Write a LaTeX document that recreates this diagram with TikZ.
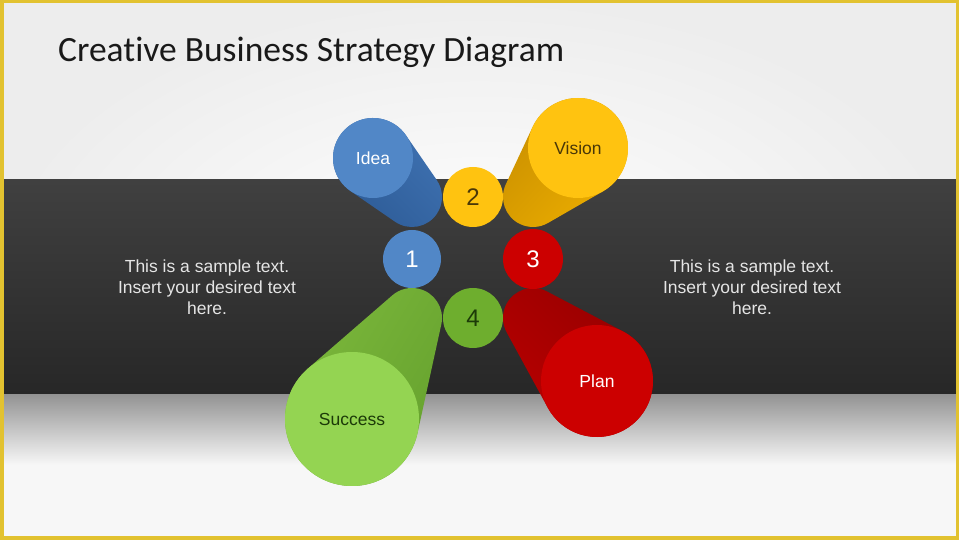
\documentclass[tikz,border=0pt]{standalone}
\usepackage{fontspec}
\setmainfont{Liberation Sans}
\newfontfamily\titlefont[RawFeature=-liga]{Carlito}
\usetikzlibrary{calc}
\definecolor{bordery}{HTML}{E2C230}
\definecolor{bandtop}{HTML}{404040}
\definecolor{bandbot}{HTML}{272727}
\definecolor{bluef}{HTML}{5187C7}
\definecolor{bluet1}{HTML}{2D5B96}
\definecolor{bluet2}{HTML}{3F72B2}
\definecolor{yelf}{HTML}{FFC310}
\definecolor{yelt1}{HTML}{C98F00}
\definecolor{yelt2}{HTML}{ECAE00}
\definecolor{redf}{HTML}{CC0000}
\definecolor{redt1}{HTML}{960000}
\definecolor{redt2}{HTML}{B80000}
\definecolor{grnf}{HTML}{94D452}
\definecolor{grnt1}{HTML}{66A22E}
\definecolor{grnt2}{HTML}{7CB83C}
\definecolor{grnc}{HTML}{6EAE2E}
\definecolor{ylabel}{HTML}{4A3808}
\definecolor{glabel}{HTML}{1C3A08}
\tikzset{
  numcirc/.style={circle,inner sep=0pt,font=\fontsize{24}{24}\selectfont},
  lab/.style={font=\fontsize{17.5}{17.5}\selectfont},
  sidetext/.style={align=center,text=white!90!black,font=\fontsize{17.5}{21}\selectfont},
}
% #1 small centre, #2 small radius, #3 big centre, #4 big radius, #5 dark col, #6 light col
\newcommand\tubehull[6]{%
  \path let \p1=(#1), \p2=(#3),
    \n1={atan2(\y2-\y1,\x2-\x1)},
    \n2={acos((#2-#4)/veclen(\x2-\x1,\y2-\y1))} in
    [left color=#5,right color=#6,shading angle=\n1]
    (#1) ++(\n1+\n2:#2) arc[start angle=\n1+\n2,end angle=\n1+360-\n2,radius=#2]
    -- ($(#3)+(\n1-\n2:#4)$) arc[start angle=\n1-\n2,end angle=\n1+\n2,radius=#4] -- cycle;
}
\begin{document}
\begin{tikzpicture}[x=1pt,y=1pt]
\useasboundingbox (0,0) rectangle (959,540);
% background
\shade[inner color=white,outer color=black!7] (0,0) rectangle (959,540);
\shade[top color=bandtop,bottom color=bandbot] (0,145) rectangle (959,360);
\fill[black!3] (0,0) rectangle (959,75);
\shade[top color=black!42,middle color=black!16,bottom color=black!3] (0,75) rectangle (959,145);
\draw[bordery,line width=3.5] (1.75,1.75) rectangle (957.25,538.25);
% title
\node[anchor=base west,inner sep=0pt,font=\titlefont\fontsize{35.5}{35.5}\selectfont,text=black!90] (title) at (58,478) {Creative Business Strategy Diagram};
% side texts
\node[sidetext] (lt) at (207,253) {This is a sample text.\\Insert your desired text\\here.};
\node[sidetext] (rt) at (752,253) {This is a sample text.\\Insert your desired text\\here.};
% anchor coordinates
\coordinate (sI) at (412,343); \coordinate (bI) at (373,382);
\coordinate (sV) at (533,343); \coordinate (bV) at (578,392);
\coordinate (sS) at (412,222); \coordinate (bS) at (352,121);
\coordinate (sP) at (533,222); \coordinate (bP) at (597,159);
% tubes
\tubehull{sI}{30}{bI}{40}{bluet1}{bluet2}
\tubehull{sV}{30}{bV}{50}{yelt1}{yelt2}
\tubehull{sS}{30}{bS}{67}{grnt1}{grnt2}
\tubehull{sP}{30}{bP}{56}{redt1}{redt2}
% faces
\node[circle,fill=bluef,minimum size=80,inner sep=0pt,text=white,lab] (idea) at (bI) {Idea};
\node[circle,fill=yelf,minimum size=100,inner sep=0pt,text=ylabel,lab] (vision) at (bV) {Vision};
\node[circle,fill=grnf,minimum size=134,inner sep=0pt,text=glabel,lab] (success) at (bS) {Success};
\node[circle,fill=redf,minimum size=112,inner sep=0pt,text=white,lab] (plan) at (bP) {Plan};
% numbered circles
\node[numcirc,fill=bluef,minimum size=58,text=white] (n1) at (412,281) {1};
\node[numcirc,fill=yelf,minimum size=60,text=ylabel] (n2) at (473,343) {2};
\node[numcirc,fill=redf,minimum size=60,text=white] (n3) at (533,281) {3};
\node[numcirc,fill=grnc,minimum size=60,text=glabel] (n4) at (473,222) {4};
\end{tikzpicture}
\end{document}
